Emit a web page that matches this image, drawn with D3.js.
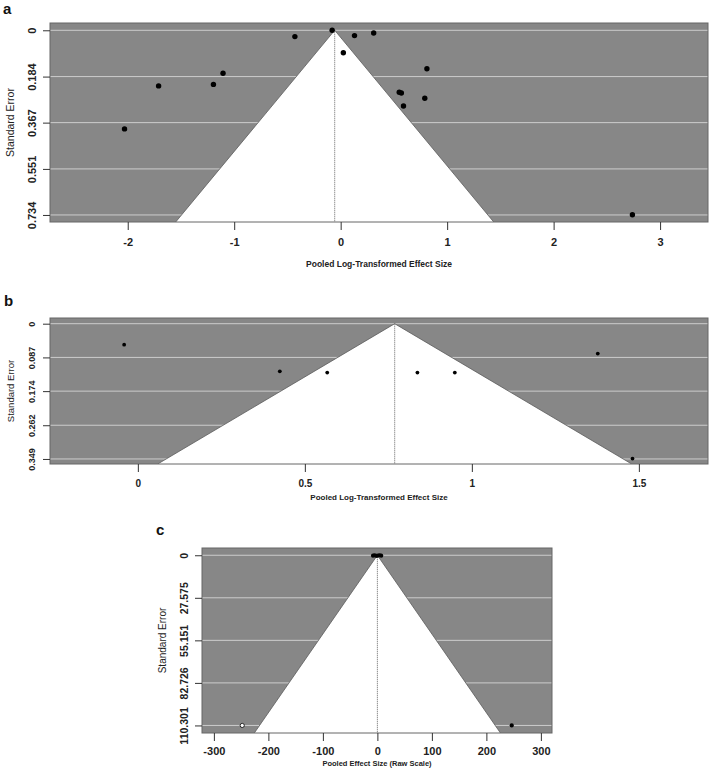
<!DOCTYPE html>
<html>
<head>
<meta charset="utf-8">
<script src="https://cdn.jsdelivr.net/npm/d3@7"></script>
<style>
  body { margin: 0; background: #fff; }
  svg { display: block; font-family: "Liberation Sans", Arial, sans-serif; }
</style>
</head>
<body>
<script>
// Panel a: pooled log-transformed effect sizes
const aEffect = [-2.03, -1.71, -1.195, -1.105, -0.43, -0.08, 0.025, 0.13, 0.31, 0.81, 0.55, 0.57, 0.59, 0.79, 2.74];
const aSE     = [0.392, 0.221, 0.215, 0.171, 0.025, 0.0, 0.089, 0.021, 0.011, 0.153, 0.246, 0.249, 0.301, 0.270, 0.733];
const aYTicks = [0, 0.184, 0.367, 0.551, 0.734];
const aXTicks = [-2, -1, 0, 1, 2, 3];

// Panel b
const bEffect = [-0.041, 0.425, 0.567, 0.837, 0.949, 1.377, 1.481];
const bSE     = [0.054, 0.123, 0.126, 0.126, 0.126, 0.077, 0.348];
const bYTicks = [0, 0.087, 0.174, 0.262, 0.349];
const bXTicks = [0, 0.5, 1, 1.5];

// Panel c: raw scale (open point = imputed study)
const cEffect = [-8, -5, -2, 1, 4, 7, -248, 246.5];
const cSE     = [0.3, 0.0, 0.4, 0.2, 0.0, 0.3, 110.3, 110.3];
const cFilled = [true, true, true, true, true, true, false, true];
const cYTicks = [0, 27.575, 55.151, 82.726, 110.301];
const cXTicks = [-300, -200, -100, 0, 100, 200, 300];

const svg = d3.select("body").append("svg")
    .attr("width", 709)
    .attr("height", 768);

function funnel(p) {
    const x = d3.scaleLinear().domain(p.xDom).range([p.left, p.right]);
    const y = d3.scaleLinear().domain(p.yDom).range([p.top, p.bottom]);
    const g = svg.append("g");
    const clipId = "clip-" + p.label;

    g.append("clipPath").attr("id", clipId)
        .append("rect")
        .attr("x", p.left).attr("y", p.top)
        .attr("width", p.right - p.left).attr("height", p.bottom - p.top);

    // grey background
    g.append("rect")
        .attr("x", p.left).attr("y", p.top)
        .attr("width", p.right - p.left).attr("height", p.bottom - p.top)
        .attr("fill", "#878787");

    // horizontal grid lines
    g.selectAll(".grid").data(p.yTicks).enter().append("line")
        .attr("x1", p.left).attr("x2", p.right)
        .attr("y1", d => y(d)).attr("y2", d => y(d))
        .attr("stroke", "#cdcdcd").attr("stroke-width", 1);

    // white funnel region
    const seMax = p.yDom[1];
    const tri = [[p.center, 0], [p.center - 1.96 * seMax, seMax], [p.center + 1.96 * seMax, seMax]];
    g.append("path")
        .attr("clip-path", `url(#${clipId})`)
        .attr("d", d3.line().x(d => x(d[0])).y(d => y(d[1]))(tri) + "Z")
        .attr("fill", "#fff");
    g.append("path")
        .attr("clip-path", `url(#${clipId})`)
        .attr("d", d3.line().x(d => x(d[0])).y(d => y(d[1]))([tri[1], tri[0], tri[2]]))
        .attr("fill", "none")
        .attr("stroke", "#5a5a5a").attr("stroke-width", 0.8);

    // dotted line at pooled estimate
    g.append("line")
        .attr("x1", x(p.center)).attr("x2", x(p.center))
        .attr("y1", y(0)).attr("y2", p.bottom)
        .attr("stroke", "#555").attr("stroke-width", 0.9)
        .attr("stroke-dasharray", "1,1");

    // box
    g.append("rect")
        .attr("x", p.left).attr("y", p.top)
        .attr("width", p.right - p.left).attr("height", p.bottom - p.top)
        .attr("fill", "none").attr("stroke", "#666").attr("stroke-width", 1);

    // points
    g.selectAll(".pt").data(p.effect).enter().append("circle")
        .attr("cx", d => x(d))
        .attr("cy", (d, i) => y(p.se[i]))
        .attr("r", p.r)
        .attr("fill", (d, i) => (p.filled && !p.filled[i]) ? "#fff" : "#000")
        .attr("stroke", "#000").attr("stroke-width", (d, i) => (p.filled && !p.filled[i]) ? 0.8 : 0);

    // y axis
    const yAxis = d3.axisLeft(y).tickValues(p.yTicks).tickSize(7).tickFormat(d => String(d));
    const ya = g.append("g").attr("transform", `translate(${p.left},0)`).call(yAxis);
    ya.select(".domain").remove();
    ya.selectAll(".tick line").attr("stroke", "#333");
    ya.selectAll(".tick text")
        .attr("x", 0).attr("dy", null)
        .attr("transform", `translate(${-18},0) rotate(-90)`)
        .attr("text-anchor", "middle")
        .attr("dominant-baseline", "central")
        .attr("font-size", p.yFont).attr("font-weight", "bold")
        .attr("fill", "#222");

    // x axis
    const xAxis = d3.axisBottom(x).tickValues(p.xTicks).tickSize(8).tickFormat(d => String(d));
    const xa = g.append("g").attr("transform", `translate(0,${p.bottom})`).call(xAxis);
    xa.select(".domain").remove();
    xa.selectAll(".tick line").attr("stroke", "#333");
    xa.selectAll(".tick text")
        .attr("y", p.xLabOff).attr("dy", null)
        .attr("dominant-baseline", "central")
        .attr("font-size", p.xFont).attr("font-weight", "bold")
        .attr("fill", "#222");

    // axis titles
    g.append("text")
        .attr("transform", `translate(${p.left - 40},${(p.top + p.bottom) / 2}) rotate(-90)`)
        .attr("text-anchor", "middle")
        .attr("dominant-baseline", "central")
        .attr("font-size", p.seFont)
        .attr("fill", "#222")
        .text("Standard Error");

    g.append("text")
        .attr("x", (p.left + p.right) / 2)
        .attr("y", p.bottom + p.titleOff)
        .attr("text-anchor", "middle")
        .attr("dominant-baseline", "central")
        .attr("font-size", p.titleFont).attr("font-weight", "bold")
        .attr("fill", "#222")
        .text(p.xTitle);

    svg.append("text")
        .attr("x", p.labX).attr("y", p.labY)
        .attr("font-size", 15).attr("font-weight", "bold")
        .attr("fill", "#111")
        .text(p.label);
}

funnel({
    label: "a", labX: 3, labY: 14,
    left: 50, right: 708, top: 23, bottom: 222,
    xDom: [-2.73, 3.45], yDom: [-0.029, 0.762], center: -0.056,
    effect: aEffect, se: aSE, r: 2.7,
    yTicks: aYTicks, xTicks: aXTicks,
    yFont: 11, xFont: 11, seFont: 10.5, titleFont: 8.5,
    xLabOff: 20, titleOff: 42,
    xTitle: "Pooled Log-Transformed Effect Size"
});

funnel({
    label: "b", labX: 4, labY: 306,
    left: 50, right: 708, top: 318, bottom: 464,
    xDom: [-0.263, 1.707], yDom: [-0.0147, 0.362], center: 0.769,
    effect: bEffect, se: bSE, r: 1.9,
    yTicks: bYTicks, xTicks: bXTicks,
    yFont: 9, xFont: 10, seFont: 9.5, titleFont: 8,
    xLabOff: 19, titleOff: 33,
    xTitle: "Pooled Log-Transformed Effect Size"
});

funnel({
    label: "c", labX: 156, labY: 535,
    left: 202, right: 552, top: 548, bottom: 733,
    xDom: [-321.8, 320.4], yDom: [-4.7, 115.2], center: 0,
    effect: cEffect, se: cSE, filled: cFilled, r: 2.1,
    yTicks: cYTicks, xTicks: cXTicks,
    yFont: 10.5, xFont: 11, seFont: 10, titleFont: 7.5,
    xLabOff: 18, titleOff: 30,
    xTitle: "Pooled Effect Size (Raw Scale)"
});
</script>
</body>
</html>
